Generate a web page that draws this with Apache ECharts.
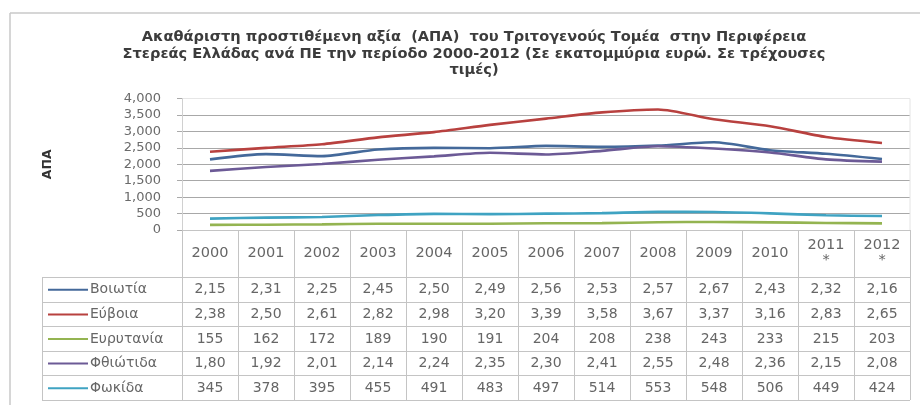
<!DOCTYPE html>
<html>
<head>
<meta charset="utf-8">
<script src="https://cdn.jsdelivr.net/npm/echarts@6/dist/echarts.min.js"></script>
<style>
html,body{margin:0;padding:0;background:#fff;}
#c{width:920px;height:405px;}
</style>
</head>
<body>
<div id="c"></div>
<script>
// ---- data ----
const years = ["2000","2001","2002","2003","2004","2005","2006","2007","2008","2009","2010","2011*","2012*"];
const seriesNames = ["Βοιωτία","Εύβοια","Ευρυτανία","Φθιώτιδα","Φωκίδα"];
const voiotia   = [2150,2310,2250,2450,2500,2490,2560,2530,2570,2670,2430,2320,2160];
const evia      = [2380,2500,2610,2820,2980,3200,3390,3580,3670,3370,3160,2830,2650];
const evrytania = [155,162,172,189,190,191,204,208,238,243,233,215,203];
const fthiotida = [1800,1920,2010,2140,2240,2350,2300,2410,2550,2480,2360,2150,2080];
const fokida    = [345,378,395,455,491,483,497,514,553,548,506,449,424];
const yTicks = [0,500,1000,1500,2000,2500,3000,3500,4000];
const titleText = "Ακαθάριστη προστιθέμενη αξία  (ΑΠΑ)  του Τριτογενούς Τομέα  στην Περιφέρεια\nΣτερεάς Ελλάδας ανά ΠΕ την περίοδο 2000-2012 (Σε εκατομμύρια ευρώ. Σε τρέχουσες\nτιμές)";
const yName = "ΑΠΑ";

const values = [voiotia, evia, evrytania, fthiotida, fokida];
const colors = ["#44699a","#b8413f","#94b451","#6c5a96","#3fa3c2"];

// ---- layout ----
const FONT = "DejaVu Sans";
const gridTop = 98.6, gridBottomY = 230, gridLeft = 182, gridRight = 910;
const headerH = 47, rowH = 24.6, tableLeft = 42;
const tableBottom = gridBottomY + headerH + rowH * 5;
const lineCol = "#c4c4c4";

function cellText(v){
  if (v >= 1000) return v.toLocaleString('en-US').slice(0,4);
  return String(v);
}

const chart = echarts.init(document.getElementById('c'), null, {renderer:'canvas'});

const baseOption = {
  animation:false,
  backgroundColor:'#fff',
  title:{
    text:titleText,
    left:469, top:24, textAlign:'center',
    textStyle:{fontFamily:FONT,fontWeight:'bold',fontSize:14.6,color:'#3c3c3c',lineHeight:16.5}
  },
  grid:{left:gridLeft, right:920-gridRight, top:gridTop, bottom:405-gridBottomY, containLabel:false},
  xAxis:{
    type:'category', data:years, boundaryGap:true,
    axisLine:{show:true,lineStyle:{color:lineCol,width:1}},
    axisTick:{show:true,alignWithLabel:false,length:tableBottom-gridBottomY,lineStyle:{color:lineCol,width:1}},
    axisLabel:{
      margin:23, verticalAlign:'middle', lineHeight:15,
      fontFamily:FONT, fontSize:14.5, color:'#666',
      formatter:function(v){ return v.replace('*','\n*'); }
    },
    splitLine:{show:false}
  },
  yAxis:{
    type:'value', min:0, max:4000, interval:500,
    name:yName, nameLocation:'middle', nameRotate:90, nameGap:128,
    nameTextStyle:{fontFamily:FONT,fontWeight:'bold',fontSize:12.5,color:'#333'},
    axisLine:{show:true,lineStyle:{color:'#d0d0d0',width:1}},
    axisTick:{show:true,length:5,lineStyle:{color:'#aaa'}},
    axisLabel:{fontFamily:FONT,fontSize:13,color:'#6a6a6a',margin:21,
      formatter:function(v){ return v.toLocaleString('en-US'); }},
    splitLine:{show:true,lineStyle:{color:['#fff','#a8a8a8','#a8a8a8','#a8a8a8','#a8a8a8','#a8a8a8','#a8a8a8','#a8a8a8','#e6e6e6'],width:1}}
  },
  series: seriesNames.map((n,i)=>({
    name:n, type:'line', data:values[i], showSymbol:false, smooth:0.25,
    lineStyle:{color:colors[i],width:2.6}, itemStyle:{color:colors[i]},
    z:2+i
  }))
};
chart.setOption(baseOption);

// ---- data table built from the axis scale ----
const xs = years.map(y => chart.convertToPixel({xAxisIndex:0}, y));
const g = [];
// outer frame
g.push({type:'line',shape:{x1:10,y1:13,x2:920,y2:13},style:{stroke:'#c8c8c8',lineWidth:1.5},silent:true});
g.push({type:'line',shape:{x1:10,y1:13,x2:10,y2:405},style:{stroke:'#c8c8c8',lineWidth:1.5},silent:true});
// plot area faint border right
g.push({type:'line',shape:{x1:gridRight,y1:gridTop,x2:gridRight,y2:gridBottomY},style:{stroke:'#e4e4e4',lineWidth:1},silent:true});
// row lines
for (let r=0;r<=5;r++){
  const y = Math.round(gridBottomY + headerH + rowH*r) + 0.5;
  g.push({type:'line',shape:{x1:tableLeft,y1:y,x2:gridRight,y2:y},style:{stroke:lineCol,lineWidth:1},silent:true});
}
g.push({type:'line',shape:{x1:tableLeft+0.5,y1:gridBottomY+headerH,x2:tableLeft+0.5,y2:tableBottom},style:{stroke:lineCol,lineWidth:1},silent:true});
// row content
seriesNames.forEach((n,r)=>{
  const cy = gridBottomY + headerH + rowH*r + rowH/2 + 0.5;
  g.push({type:'line',shape:{x1:48,y1:cy,x2:88,y2:cy},style:{stroke:colors[r],lineWidth:2},silent:true});
  g.push({type:'text',x:90,y:cy,style:{text:n,fontFamily:FONT,fontSize:14,fill:'#666',textVerticalAlign:'middle',textAlign:'left'},silent:true});
  values[r].forEach((v,c)=>{
    g.push({type:'text',x:xs[c],y:cy,style:{text:cellText(v),fontFamily:FONT,fontSize:14,fill:'#666',textAlign:'center',textVerticalAlign:'middle'},silent:true});
  });
});
chart.setOption({graphic:g});
</script>
</body>
</html>
